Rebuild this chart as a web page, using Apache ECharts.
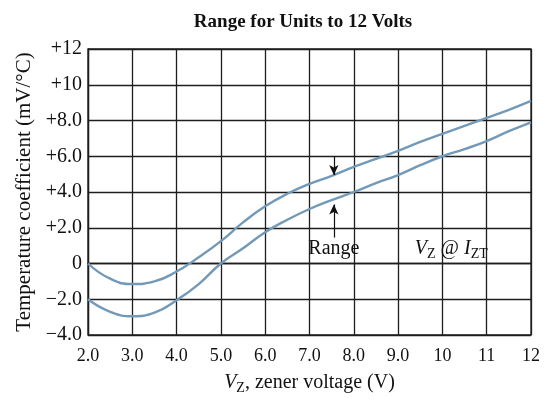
<!DOCTYPE html>
<html>
<head>
<meta charset="utf-8">
<script src="https://cdn.jsdelivr.net/npm/echarts@6/dist/echarts.min.js"></script>
<style>
  html, body { margin: 0; padding: 0; background: #fff; }
  #main { width: 555px; height: 400px; }
</style>
</head>
<body>
<div id="main"></div>
<script>
// zener voltage (V)
var vz = [2.0, 2.5, 3.0, 3.5, 4.0, 4.5, 5.0, 5.5, 6.0, 6.5, 7.0, 7.5, 8.0, 8.5, 9.0, 9.5, 10, 10.5, 11, 11.5, 12];
// upper edge of the range (mV/°C)
var upperTc = [0, -0.85, -1.15, -1.0, -0.45, 0.35, 1.25, 2.3, 3.2, 3.9, 4.45, 4.9, 5.4, 5.85, 6.3, 6.8, 7.25, 7.7, 8.15, 8.6, 9.1];
// lower edge of the range (mV/°C)
var lowerTc = [-2.0, -2.7, -2.95, -2.75, -2.05, -1.15, 0, 0.85, 1.75, 2.45, 3.05, 3.55, 4.0, 4.5, 4.95, 5.5, 6.0, 6.4, 6.85, 7.4, 7.9];
// tick labels
var yTickLabels = { '-4': '\u22124.0', '-2': '\u22122.0', '0': '0', '2': '+2.0', '4': '+4.0', '6': '+6.0', '8': '+8.0', '10': '+10', '12': '+12' };
var xTickLabels = { '2': '2.0', '3': '3.0', '4': '4.0', '5': '5.0', '6': '6.0', '7': '7.0', '8': '8.0', '9': '9.0', '10': '10', '11': '11', '12': '12' };

var serif = '"Liberation Serif", "DejaVu Serif", serif';
var curveColor = '#7299b8';
var gridColor = '#1e1e1e';

function pairs(xs, ys) {
    var out = [];
    for (var i = 0; i < xs.length; i++) out.push([xs[i], ys[i]]);
    return out;
}

// rich styles for italic V / I with subscripts
function richText(size) {
    return {
        i: { fontFamily: serif, fontSize: size, fontStyle: 'italic', color: '#111' },
        s: { fontFamily: serif, fontSize: Math.round(size * 0.68), color: '#111', verticalAlign: 'bottom', padding: [Math.round(size * 0.5), 0, 0, 0] },
        n: { fontFamily: serif, fontSize: size, color: '#111' }
    };
}

var chart = echarts.init(document.getElementById('main'));
var option = {
    animation: false,
    title: {
        text: 'Range for Units to 12 Volts',
        left: 298,
        top: 8,
        textAlign: 'center',
        textStyle: { fontFamily: serif, fontWeight: 'bold', fontSize: 19, color: '#111' }
    },
    grid: {
        left: 88, right: 24, top: 49, bottom: 61,
        show: true, borderColor: gridColor, borderWidth: 1.3
    },
    xAxis: {
        type: 'value',
        min: 2, max: 12, interval: 1,
        name: '{i|V}{s|Z}{n|, zener voltage (V)}',
        nameLocation: 'middle',
        nameGap: 36,
        nameTextStyle: { fontFamily: serif, fontSize: 20, color: '#111', rich: richText(20) },
        axisLine: { lineStyle: { color: gridColor, width: 1.3 } },
        axisTick: { show: false },
        axisLabel: {
            margin: 12, fontFamily: serif, fontSize: 18, color: '#111',
            formatter: function (v) { return xTickLabels[String(v)] || ''; }
        },
        splitLine: { show: true, lineStyle: { color: gridColor, width: 1.3 } }
    },
    yAxis: {
        type: 'value',
        min: -4, max: 12, interval: 2,
        name: 'Temperature coefficient (mV/\u00B0C)',
        nameLocation: 'middle',
        nameGap: 48,
        nameTextStyle: { fontFamily: serif, fontSize: 21, color: '#111' },
        axisLine: { show: true, lineStyle: { color: gridColor, width: 1.3 } },
        axisTick: { show: false },
        axisLabel: {
            margin: 6, fontFamily: serif, fontSize: 20, color: '#111',
            formatter: function (v) { return yTickLabels[String(v)] || ''; }
        },
        splitLine: { show: true, lineStyle: { color: gridColor, width: 1.3 } }
    },
    series: [
        {
            name: 'upper',
            type: 'line',
            smooth: true,
            symbol: 'none',
            lineStyle: { color: curveColor, width: 2.4 },
            data: pairs(vz, upperTc),
            markLine: {
                silent: true,
                symbol: ['none', 'arrow'],
                symbolSize: [7, 10],
                label: { show: false },
                lineStyle: { color: '#111', width: 1.2, type: 'solid' },
                data: [
                    [{ coord: [7.55, 6.0] }, { coord: [7.55, 4.95] }],
                    [{ coord: [7.55, 1.45] }, { coord: [7.55, 3.3] }]
                ]
            },
            markPoint: {
                silent: true,
                symbol: 'circle',
                symbolSize: 0,
                label: {
                    show: true, position: 'inside',
                    fontFamily: serif, fontSize: 20, color: '#111',
                    formatter: function (p) { return p.name; },
                    rich: richText(20)
                },
                data: [
                    { name: '{n|Range}', coord: [7.55, 0.8] },
                    { name: '{i|V}{s|Z}{n| @ }{i|I}{s|ZT}', coord: [10.2, 0.8] }
                ]
            }
        },
        {
            name: 'lower',
            type: 'line',
            smooth: true,
            symbol: 'none',
            lineStyle: { color: curveColor, width: 2.4 },
            data: pairs(vz, lowerTc)
        }
    ]
};
chart.setOption(option);
</script>
</body>
</html>
